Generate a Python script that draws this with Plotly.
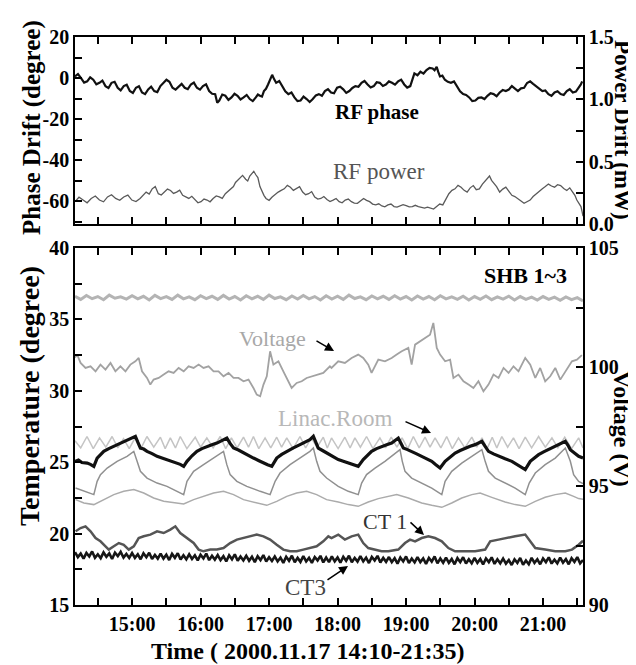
import plotly.graph_objects as go

# ---------------- data (time in minutes after 14:10) ----------------
rf_phase_t = [0, 2.6, 5.3, 8.0, 10.7, 13.3, 16.0, 18.7, 21.4, 24.0, 26.7, 29.3, 32.0, 34.7, 37.4, 40.0,
              42.7, 45.3, 48.0, 50.7, 53.4, 56.0, 58.7, 61.4, 64.1, 66.7, 69.4, 72.1, 74.8, 77.4, 80.1,
              82.7, 85.4, 88.1, 90.8, 93.4, 96.1, 98.8, 101.5, 104.1, 106.8, 109.5, 112.1, 114.8, 117.5,
              120.1, 122.8, 124.6, 126.4, 129.0, 131.7, 134.4, 137.1, 139.7, 142.4, 145.0, 147.7, 150.4,
              153.1, 155.7, 158.4, 160.2, 162.0, 163.8, 165.5, 167.3, 169.1, 170.9, 172.7, 174.5, 176.2,
              178.9, 181.6, 184.2, 186.9, 189.6, 192.2, 194.9, 197.6, 200.2, 202.9, 205.6, 208.3, 211.0,
              213.6, 216.3, 218.9, 221.6, 224.3, 226.9, 229.6, 232.3, 235.0, 237.6, 240.3, 243.0, 245.6,
              248.3, 251.0, 253.6, 256.3, 259.0, 261.7, 264.3, 267.0, 269.7, 272.3, 275.0, 277.7, 280.3,
              283.0, 285.7, 288.4, 291.0, 293.7, 295.5, 297.3, 300.0, 302.6, 305.3, 307.9, 310.6, 313.3,
              315.0, 316.8, 318.2, 319.7, 321.8, 324.0, 326.6, 329.3, 332.0, 334.6, 337.3, 340.0, 342.6,
              345.3, 348.0, 350.7, 353.3, 356.0, 358.7, 361.3, 364.0, 366.7, 369.3, 372.0, 374.7, 377.4,
              380.0, 382.7, 385.3, 388.0, 390.7, 393.4, 396.0, 398.7, 401.3, 404.0, 406.7, 409.4, 412.0,
              414.7, 417.4, 420.1, 422.7, 425.4, 428.1, 430.8, 433.4, 436.1, 438.8, 441.4, 443.0, 444.3]
rf_phase_deg = [0.8, 2.0, 0.0, -2.2, -1.6, 0.4, -0.8, -3.0, -2.3, -1.2, -3.9, -4.8, -2.3, -1.8, -4.7, -6.0,
                -3.9, -3.2, -6.3, -7.2, -4.7, -4.0, -7.0, -7.8, -5.5, -4.2, -6.3, -6.8, -3.9, -2.4, -0.8,
                -1.8, -4.7, -5.6, -3.9, -2.8, -4.7, -5.4, -3.1, -2.2, -4.7, -5.6, -3.9, -3.0, -6.3,
                -7.6, -7.8, -12.0, -10.9, -8.0, -8.6, -10.6, -9.4, -7.6, -8.6, -10.4, -9.4, -8.2,
                -10.2, -11.2, -9.4, -8.0, -8.6, -9.0, -6.3, -5.2, -3.1, -0.4, 1.6, -0.6, -2.3,
                -1.4, -3.9, -6.4, -7.8, -7.0, -9.4, -11.2, -10.9, -9.0, -10.2, -11.6, -10.2, -8.4,
                -7.8, -8.6, -6.3, -5.4, -7.0, -7.4, -4.7, -4.2, -5.5, -7.2, -6.3, -4.8, -3.9,
                -4.2, -2.3, -1.4, -3.1, -4.6, -3.9, -2.0, -2.3, -3.8, -3.1, -1.6, -2.3, -3.2,
                -1.6, -0.8, -3.1, -4.6, -3.9, -1.0, 2.3, 1.4, 3.1, 2.2, 3.9, 5.0, 4.7,
                3.8, 5.5, 3.0, 0.8, 1.2, -0.8, -1.8, -2.3, -1.6, -3.9, -6.4, -7.8, -8.2,
                -9.4, -11.2, -10.9, -9.6, -9.4, -10.2, -8.6, -7.4, -7.8, -8.8, -7.0, -5.8, -6.3,
                -5.6, -3.9, -5.0, -6.3, -5.0, -4.7, -2.4, -1.6, -2.8, -3.9, -5.4, -6.3, -6.0,
                -7.8, -8.6, -7.0, -6.4, -7.8, -8.2, -6.3, -5.4, -7.0, -6.6, -4.7, -3.2, -1.6]

rf_power_t = [0, 3.5, 7.1, 10.6, 14.2, 17.8, 21.4, 25.0, 28.5, 32.0, 35.6, 39.2, 42.7, 46.3, 49.8, 53.4,
              57.0, 59.6, 62.3, 65.0, 67.6, 70.3, 73.0, 75.6, 78.3, 81.0, 83.7, 86.3, 89.0, 91.7, 94.3,
              97.0, 99.7, 102.3, 105.0, 107.7, 110.4, 113.0, 115.7, 118.3, 121.0, 123.7, 126.4, 129.0,
              131.7, 134.4, 137.1, 138.8, 140.6, 142.4, 144.2, 146.8, 149.5, 151.3, 153.1, 154.8, 156.6,
              158.4, 160.2, 162.0, 163.8, 165.5, 167.3, 170.0, 172.7, 175.3, 178.0, 180.6, 183.3, 186.0,
              188.7, 191.3, 194.0, 196.7, 199.4, 202.0, 204.7, 207.3, 210.0, 212.7, 215.4, 218.0, 220.7,
              223.4, 226.1, 228.7, 231.4, 234.0, 236.7, 239.4, 242.1, 244.7, 247.4, 250.1, 252.8, 255.4,
              258.1, 260.7, 263.4, 266.1, 268.8, 271.4, 274.1, 276.8, 279.5, 282.1, 284.8, 287.4, 290.1,
              292.8, 295.5, 298.1, 300.8, 303.5, 306.2, 308.8, 311.5, 314.1, 316.8, 319.5, 322.2, 324.9,
              327.5, 330.2, 332.9, 335.5, 338.2, 340.9, 343.5, 346.2, 348.9, 351.5, 354.2, 356.9, 359.6,
              361.3, 363.1, 364.9, 366.7, 369.3, 372.0, 374.7, 377.4, 380.0, 382.7, 385.3, 388.0, 390.7,
              393.4, 396.0, 398.7, 401.3, 404.0, 406.7, 409.4, 412.0, 414.7, 417.4, 420.1, 422.7, 425.4,
              428.1, 430.8, 433.4, 436.1, 437.9, 439.6, 441.4, 443.2, 444.2, 445.0]
rf_power_mw = [0.179, 0.215, 0.192, 0.170, 0.205, 0.225, 0.192, 0.178, 0.217, 0.235, 0.205, 0.190, 0.217, 0.232, 0.192, 0.180,
               0.205, 0.230, 0.256, 0.240, 0.282, 0.300, 0.243, 0.232, 0.256, 0.280, 0.269, 0.245, 0.256, 0.272, 0.230,
               0.215, 0.205, 0.222, 0.192, 0.170, 0.179, 0.200, 0.192, 0.178, 0.205, 0.225, 0.217, 0.205,
               0.243, 0.262, 0.282, 0.300, 0.333, 0.350, 0.372, 0.390, 0.359, 0.345, 0.385, 0.400, 0.423,
               0.395, 0.372, 0.300, 0.256, 0.230, 0.205, 0.190, 0.217, 0.240, 0.256, 0.270, 0.282, 0.310,
               0.295, 0.270, 0.282, 0.300, 0.256, 0.235, 0.243, 0.260, 0.217, 0.200, 0.205, 0.220, 0.197,
               0.180, 0.192, 0.205, 0.179, 0.170, 0.192, 0.200, 0.179, 0.168, 0.166, 0.185, 0.205, 0.190,
               0.179, 0.160, 0.153, 0.162, 0.145, 0.138, 0.153, 0.160, 0.140, 0.135, 0.145, 0.155, 0.148,
               0.138, 0.140, 0.150, 0.140, 0.132, 0.127, 0.135, 0.127, 0.120, 0.140, 0.160, 0.153, 0.200,
               0.243, 0.270, 0.282, 0.310, 0.295, 0.270, 0.256, 0.290, 0.308, 0.275, 0.282, 0.320, 0.346,
               0.360, 0.385, 0.350, 0.333, 0.300, 0.256, 0.280, 0.295, 0.260, 0.230, 0.220, 0.205, 0.185,
               0.166, 0.180, 0.192, 0.220, 0.243, 0.265, 0.282, 0.300, 0.320, 0.305, 0.295, 0.315, 0.308,
               0.285, 0.269, 0.290, 0.256, 0.230, 0.192, 0.170, 0.140, 0.100, 0.063]

shb_top_t = list(range(0, 450, 5))
shb_top_temp = [36.62, 36.40, 36.68, 36.45, 36.60, 36.38, 36.70, 36.48, 36.58, 36.42,
                36.66, 36.44, 36.62, 36.36, 36.68, 36.46, 36.60, 36.40, 36.70, 36.44,
                36.58, 36.38, 36.66, 36.46, 36.62, 36.40, 36.68, 36.42, 36.60, 36.36,
                36.66, 36.44, 36.62, 36.40, 36.70, 36.46, 36.58, 36.38, 36.64, 36.42,
                36.68, 36.44, 36.60, 36.36, 36.66, 36.42, 36.62, 36.40, 36.70, 36.46,
                36.58, 36.38, 36.64, 36.44, 36.62, 36.40, 36.66, 36.42, 36.60, 36.36,
                36.64, 36.42, 36.60, 36.38, 36.66, 36.44, 36.58, 36.40, 36.62, 36.36,
                36.60, 36.40, 36.64, 36.38, 36.58, 36.42, 36.62, 36.36, 36.60, 36.40,
                36.56, 36.36, 36.60, 36.40, 36.56, 36.34, 36.58, 36.38, 36.52, 36.30]

voltage_t = [0, 1.9, 4.9, 9.2, 13.6, 18.0, 22.3, 26.7, 31.1, 35.4, 39.8, 44.2, 48.5, 52.9, 55.8, 58.7,
             63.1, 66.0, 68.9, 73.3, 77.7, 82.0, 86.4, 90.8, 95.2, 99.5, 103.9, 108.3, 112.6, 117.0,
             121.4, 125.7, 130.1, 134.5, 138.9, 143.2, 147.6, 152.0, 156.3, 159.2, 162.2, 165.1, 168.0,
             170.9, 173.8, 178.2, 182.5, 186.9, 189.8, 194.2, 198.6, 202.9, 207.3, 211.7, 217.5, 223.3,
             224.7, 230.6, 236.4, 242.3, 248.1, 252.5, 256.9, 259.8, 265.7, 271.5, 277.4, 281.8, 286.2,
             292.0, 294.9, 297.9, 302.2, 306.6, 311.0, 313.9, 316.9, 319.8, 324.2, 328.6, 331.5, 335.9,
             340.3, 344.7, 349.0, 353.4, 357.8, 362.2, 366.6, 371.0, 375.4, 379.8, 384.1, 388.5, 394.4,
             398.8, 403.2, 407.5, 411.9, 416.3, 420.7, 425.1, 429.5, 435.3, 439.7, 444.0]
voltage_v = [100.40, 100.52, 100.17, 99.96, 100.03, 99.82, 100.10, 99.89, 100.17, 99.82, 100.03, 99.82, 100.10, 100.24, 100.38, 99.82,
             99.54, 99.26, 99.47, 99.54, 99.68, 99.82, 99.75, 99.96, 99.82, 100.03, 99.96, 100.10, 99.96, 100.03,
             99.82, 99.82, 99.61, 99.75, 99.54, 99.54, 99.40, 99.47, 99.12, 98.84, 98.77, 99.26, 99.61,
             100.66, 100.10, 100.24, 99.82, 99.40, 99.12, 99.33, 99.40, 99.54, 99.61, 99.68, 99.75, 100.03,
             99.96, 100.24, 100.17, 100.38, 100.52, 100.38, 100.10, 99.75, 100.31, 100.24, 100.38, 100.52, 100.66,
             100.80, 100.10, 100.94, 101.08, 101.22, 101.36, 101.85, 100.80, 100.52, 100.24, 100.31, 99.54, 99.68,
             99.40, 99.26, 99.12, 99.40, 98.98, 99.26, 99.68, 99.54, 99.96, 99.75, 100.03, 99.82, 100.38,
             100.10, 99.54, 99.96, 99.40, 99.61, 99.96, 99.47, 99.82, 100.24, 100.31, 100.50]

linac_t = [0, 5, 10.5, 16, 21.5, 27, 32.5, 37.5, 42.5, 47.5, 53, 58, 63, 69, 74.8, 79, 83.5, 88, 92.2, 98,
           105.3, 110, 115.5, 121, 127.2, 132, 137, 142, 147.6, 152, 156.3, 161, 166.5, 171.5, 176.7, 181,
           185.5, 191, 197.1, 202, 207, 212, 217.5, 221, 224.7, 230.5, 236.4, 241, 245.2, 250, 255.4, 261,
           267.1, 272, 277, 282, 286.5, 291.5, 296.4, 301.5, 306.6, 311, 315.4, 320.5, 325.6, 330.5, 335.9,
           341.5, 347.6, 352, 356.5, 361, 365.5, 369.5, 373.9, 379, 384.1, 389, 394.4, 400, 406.1, 412,
           417.8, 423, 429, 435, 441.2, 445]
linac_temp = [26.5, 26.0, 26.8, 25.95, 26.7, 26.05, 26.8, 26.0, 26.65, 25.95, 26.75, 26.0, 26.8, 26.05, 26.75, 25.95, 26.7, 26.0, 26.8, 25.95,
              26.75, 26.05, 26.7, 26.0, 26.8, 25.95, 26.7, 26.0, 26.75, 26.05, 26.8, 25.95, 26.7, 26.0, 26.75, 26.05,
              26.7, 25.95, 26.8, 26.0, 26.7, 26.05, 26.75, 26.0, 26.7, 25.95, 26.75, 26.0, 26.7, 26.05, 26.8, 25.95,
              26.7, 26.0, 26.75, 26.05, 26.7, 25.95, 26.8, 26.0, 26.75, 26.05, 26.7, 26.0, 26.8, 25.95, 26.7,
              26.0, 26.75, 26.05, 26.7, 25.95, 26.75, 26.0, 26.8, 26.05, 26.7, 25.95, 26.75, 26.0, 26.8, 26.05,
              26.7, 26.0, 26.75, 25.95, 26.7, 26.0]

shb1_t = [0, 3, 6, 10.7, 13.5, 16.5, 19.4, 22.3, 25.2, 29.6, 34.0, 38.4, 42.7, 46.4, 50.0, 52.9, 55.0, 57.3,
          60.2, 63.1, 67.5, 71.9, 76.2, 80.6, 85.0, 89.3, 92.2, 95.2, 98.1, 102.5, 106.8, 111.2, 115.5, 119.9,
          124.3, 128.6, 133.0, 136.0, 138.9, 143.2, 147.6, 152.0, 156.3, 160.7, 165.1, 168.7, 172.4, 176.7,
          181.1, 185.5, 191.3, 197.1, 201.5, 205.8, 208.8, 211.0, 213.1, 216.8, 220.4, 225.5, 230.6, 235.0,
          239.4, 243.7, 248.1, 252.5, 256.1, 259.8, 264.2, 268.6, 273.0, 277.4, 280.3, 283.2, 285.4, 287.6,
          291.2, 294.9, 299.3, 303.7, 308.1, 312.5, 316.1, 319.8, 324.2, 328.6, 333.0, 337.4, 341.7, 346.1,
          350.5, 356.4, 359.3, 362.2, 366.6, 371.0, 376.8, 382.7, 388.5, 394.4, 398.8, 402.4, 406.1, 410.5,
          414.9, 419.2, 423.6, 429.5, 431.7, 433.9, 437.5, 441.2, 445.0]
shb1_temp = [25.06, 25.15, 24.98, 24.94, 24.85, 24.71, 25.29, 25.55, 25.76, 25.95, 26.11, 26.30, 26.46, 26.55, 26.69, 26.81, 26.40, 25.99,
             25.92, 25.76, 25.60, 25.41, 25.30, 25.18, 25.05, 24.94, 24.85, 24.71, 25.06, 25.45, 25.76, 25.95, 26.11, 26.22,
             26.34, 26.52, 26.69, 26.30, 25.99, 25.85, 25.64, 25.48, 25.29, 25.12, 24.94, 24.82, 24.71, 25.29,
             25.55, 25.76, 26.00, 26.23, 26.40, 26.58, 26.81, 26.40, 25.99, 25.82, 25.64, 25.40, 25.18, 25.06,
             24.94, 24.82, 24.71, 25.18, 25.50, 25.76, 25.95, 26.11, 26.22, 26.34, 26.50, 26.69, 26.35, 25.99,
             25.88, 25.76, 25.58, 25.41, 25.22, 25.06, 24.82, 24.59, 25.06, 25.38, 25.64, 25.82, 25.99, 26.12,
             26.23, 26.46, 26.10, 25.76, 25.58, 25.41, 25.24, 25.06, 24.78, 24.48, 25.06, 25.30, 25.53, 25.72,
             25.88, 26.05, 26.23, 26.46, 26.20, 25.88, 25.65, 25.41, 25.30]

shb2_t = [0.5, 7.8, 16.5, 19.4, 22.3, 28.2, 36.9, 45.6, 51.5, 54.4, 57.3, 63.1, 71.9, 80.6, 89.3, 95.2, 98.1,
          103.9, 112.6, 121.4, 130.1, 133.0, 135.9, 141.8, 150.5, 162.2, 170.9, 175.3, 179.6, 188.4, 197.1,
          205.8, 208.8, 211.7, 214.6, 220.4, 230.6, 239.4, 248.1, 251.1, 255.4, 262.8, 271.5, 280.3, 284.7,
          286.7, 289.1, 294.9, 303.7, 312.5, 321.3, 324.2, 330.0, 338.8, 347.6, 356.4, 359.3, 362.2, 368.1,
          376.8, 385.6, 394.4, 397.9, 403.2, 411.9, 420.7, 429.5, 433.9, 436.8, 441.2, 445.0]
shb2_temp = [23.19, 22.96, 22.73, 23.66, 24.13, 24.59, 25.06, 25.41, 25.76, 25.06, 24.36, 23.89, 23.54, 23.31, 22.96, 22.73, 23.66,
             24.36, 24.83, 25.29, 25.76, 24.83, 24.13, 23.66, 23.31, 22.96, 22.73, 23.66, 24.24, 24.83, 25.29,
             25.76, 25.99, 25.06, 24.36, 23.89, 23.31, 22.96, 22.73, 23.54, 24.13, 24.59, 25.06, 25.64, 25.88,
             25.06, 24.36, 23.89, 23.54, 23.19, 22.73, 23.66, 24.36, 24.94, 25.41, 25.88, 25.06, 24.36, 23.89,
             23.54, 23.19, 22.73, 23.54, 24.24, 24.83, 25.29, 25.99, 25.06, 24.13, 23.66, 23.50]

shb3_t = [0.5, 7.8, 16.5, 25.2, 34.0, 42.7, 51.5, 60.2, 68.9, 77.7, 86.4, 95.2, 103.9, 112.6, 121.4, 130.1,
          138.9, 147.6, 159.2, 168.0, 176.7, 185.5, 194.2, 202.9, 211.7, 220.4, 230.6, 239.4, 248.1, 256.9,
          265.7, 274.5, 281.8, 292.0, 303.7, 312.5, 321.3, 330.0, 338.8, 347.6, 354.9, 365.1, 376.8, 385.6,
          394.4, 403.2, 411.9, 420.7, 429.5, 436.8, 441.2, 445.0]
shb3_temp = [22.38, 22.14, 22.03, 22.38, 22.73, 22.96, 23.08, 22.84, 22.49, 22.26, 22.14, 22.07, 22.38, 22.61, 22.84, 22.96,
             22.73, 22.38, 22.14, 21.98, 22.26, 22.61, 22.84, 22.96, 22.73, 22.38, 22.21, 22.03, 21.91, 22.21,
             22.45, 22.61, 22.73, 22.49, 22.14, 21.98, 21.84, 22.14, 22.49, 22.73, 22.84, 22.54, 22.21, 22.03,
             21.91, 22.26, 22.54, 22.73, 22.84, 22.61, 22.45, 22.40]

ct1_t = [0.5, 4.9, 9.2, 13.6, 18.0, 22.3, 26.7, 29.6, 34.0, 38.4, 42.7, 47.1, 51.5, 55.8, 60.2, 66.0, 71.9,
         77.7, 83.5, 87.9, 92.2, 98.1, 103.9, 108.3, 112.6, 118.5, 124.3, 130.1, 135.9, 141.8, 147.6, 153.4,
         159.2, 165.1, 170.9, 176.7, 182.5, 188.4, 194.2, 200.0, 205.8, 211.7, 217.5, 221.9, 224.7, 230.6,
         236.4, 242.3, 248.1, 252.5, 256.9, 262.8, 268.6, 274.5, 283.2, 289.1, 293.5, 297.9, 303.7, 309.6,
         315.4, 321.3, 327.1, 333.0, 341.7, 350.5, 359.3, 363.7, 371.0, 376.8, 385.6, 394.4, 398.8, 403.2,
         411.9, 420.7, 429.5, 435.3, 441.2, 445.0]
ct1_temp = [20.16, 20.39, 20.51, 20.16, 19.69, 19.46, 19.11, 18.88, 19.11, 19.34, 19.22, 18.88, 19.11, 19.69, 19.81, 19.93, 20.16,
            20.04, 20.28, 20.51, 20.04, 19.69, 19.34, 18.88, 18.76, 18.88, 18.88, 18.99, 19.34, 19.58, 19.69, 19.81,
            19.93, 19.81, 19.58, 19.22, 18.88, 18.76, 18.76, 18.88, 18.99, 19.11, 19.46, 19.81, 19.69, 19.93,
            19.58, 19.81, 19.93, 19.34, 18.99, 18.88, 18.76, 18.76, 18.88, 19.34, 19.58, 19.46, 19.69, 19.81,
            19.69, 19.46, 18.99, 18.76, 18.76, 18.76, 18.88, 19.46, 19.58, 19.69, 19.81, 19.93, 19.46, 18.99,
            18.88, 18.76, 18.76, 18.88, 19.22, 19.50]

ct3_t = [i * 2.5 for i in range(179)]
ct3_temp = [18.70, 18.35, 18.60, 18.25, 18.65, 18.40, 18.75, 18.30, 18.55, 18.28,
            18.68, 18.38, 18.62, 18.22, 18.66, 18.42, 18.72, 18.32, 18.58, 18.30,
            18.64, 18.30, 18.55, 18.20, 18.62, 18.35, 18.66, 18.22, 18.50, 18.25,
            18.60, 18.25, 18.52, 18.15, 18.58, 18.30, 18.63, 18.18, 18.48, 18.20,
            18.55, 18.22, 18.48, 18.12, 18.52, 18.26, 18.60, 18.14, 18.45, 18.18,
            18.50, 18.15, 18.42, 18.05, 18.48, 18.20, 18.55, 18.10, 18.40, 18.12,
            18.45, 18.10, 18.38, 18.00, 18.42, 18.15, 18.50, 18.05, 18.35, 18.08,
            18.40, 18.05, 18.32, 17.95, 18.38, 18.10, 18.45, 18.00, 18.30, 18.02,
            18.42, 18.05, 18.30, 17.95, 18.36, 18.12, 18.44, 17.98, 18.32, 18.00,
            18.40, 18.06, 18.33, 17.96, 18.38, 18.10, 18.45, 18.00, 18.30, 18.04,
            18.42, 18.05, 18.32, 17.94, 18.36, 18.12, 18.44, 17.98, 18.30, 18.02,
            18.36, 18.00, 18.28, 17.90, 18.32, 18.05, 18.40, 17.94, 18.25, 17.98,
            18.35, 18.00, 18.26, 17.88, 18.30, 18.04, 18.40, 17.92, 18.26, 17.96,
            18.32, 17.95, 18.22, 17.85, 18.28, 18.00, 18.35, 17.90, 18.20, 17.92,
            18.30, 17.95, 18.22, 17.84, 18.26, 18.00, 18.34, 17.88, 18.20, 17.92,
            18.25, 17.90, 18.15, 17.80, 18.20, 17.95, 18.30, 17.82, 18.12, 17.85,
            18.30, 17.95, 18.20, 17.85, 18.26, 18.00, 18.34, 17.90, 18.18, 17.92,
            18.32, 17.96, 18.22, 17.85, 18.28, 18.02, 18.35, 17.92, 18.15]

x_tick_minutes = [20, 50, 80, 110, 140, 170, 200, 230, 260, 290, 320, 350, 380, 410, 440]
x_tick_labels = ["", "15:00", "", "16:00", "", "17:00", "", "18:00", "", "19:00", "", "20:00", "", "21:00", ""]
phase_ticks = [-70, -60, -50, -40, -30, -20, -10, 0, 10, 20]
phase_labels = ["", "-60", "", "-40", "", "-20", "", "0", "", "20"]
power_ticks = [0, 0.25, 0.5, 0.75, 1.0, 1.25, 1.5]
power_labels = ["0.0", "", "0.5", "", "1.0", "", "1.5"]
temp_ticks = [15, 17.5, 20, 22.5, 25, 27.5, 30, 32.5, 35, 37.5, 40]
temp_labels = ["15", "", "20", "", "25", "", "30", "", "35", "", "40"]
volt_ticks = [90, 92.5, 95, 97.5, 100, 102.5, 105]
volt_labels = ["90", "", "95", "", "100", "", "105"]

# ---------------- layout helpers ----------------
W, H = 636, 665
L, R, T, B = 67, 575, 29, 597
FONT = "Liberation Serif"


def px(x):
    return (x - L) / (R - L)


def py(y):
    return (B - y) / (B - T)


fig = go.Figure()

# top panel
fig.add_trace(go.Scatter(x=rf_phase_t, y=rf_phase_deg, xaxis="x2", yaxis="y3", mode="lines",
                         line=dict(color="#111111", width=2.2)))
fig.add_trace(go.Scatter(x=rf_power_t, y=rf_power_mw, xaxis="x2", yaxis="y4", mode="lines",
                         line=dict(color="#5a5a5a", width=1.3)))

# bottom panel
fig.add_trace(go.Scatter(x=shb_top_t, y=shb_top_temp, mode="lines", line=dict(color="#b4b4b4", width=3)))
fig.add_trace(go.Scatter(x=linac_t, y=linac_temp, mode="lines", line=dict(color="#c4c4c4", width=1.5)))
fig.add_trace(go.Scatter(x=shb3_t, y=shb3_temp, mode="lines", line=dict(color="#ababab", width=1.5)))
fig.add_trace(go.Scatter(x=shb2_t, y=shb2_temp, mode="lines", line=dict(color="#909090", width=1.5)))
fig.add_trace(go.Scatter(x=shb1_t, y=shb1_temp, mode="lines", line=dict(color="#111111", width=3.2)))
fig.add_trace(go.Scatter(x=ct1_t, y=ct1_temp, mode="lines", line=dict(color="#555555", width=2.5)))
fig.add_trace(go.Scatter(x=ct3_t, y=ct3_temp, mode="lines", line=dict(color="#161616", width=2.6)))
fig.add_trace(go.Scatter(x=voltage_t, y=voltage_v, yaxis="y2", mode="lines",
                         line=dict(color="#a2a2a2", width=1.8)))

tickfont = dict(family=FONT, size=20, color="black", weight="bold")
axis_common = dict(ticks="inside", ticklen=7, tickwidth=1.5, tickcolor="black", showline=True,
                   linecolor="black", linewidth=1.5, showgrid=False, zeroline=False, tickfont=tickfont)

fig.update_layout(
    width=W, height=H, autosize=False, showlegend=False,
    paper_bgcolor="white", plot_bgcolor="white",
    margin=dict(l=L, r=W - R, t=T, b=H - B, pad=0),
    xaxis=dict(domain=[0, 1], anchor="y", range=[0, 445], tickmode="array", tickvals=x_tick_minutes,
               ticktext=x_tick_labels, mirror="ticks", **axis_common),
    xaxis2=dict(domain=[0, 1], anchor="y3", range=[0, 445], tickmode="array", tickvals=x_tick_minutes,
                ticktext=x_tick_labels, showticklabels=False, mirror="ticks", **axis_common),
    yaxis=dict(domain=[0, py(240)], anchor="x", range=[15, 40], tickmode="array", tickvals=temp_ticks,
               ticktext=temp_labels, **axis_common),
    yaxis2=dict(overlaying="y", side="right", anchor="x", range=[90, 105], tickmode="array",
                tickvals=volt_ticks, ticktext=volt_labels, **axis_common),
    yaxis3=dict(domain=[py(216), 1], anchor="x2", range=[-71, 20], tickmode="array", tickvals=phase_ticks,
                ticktext=phase_labels, **axis_common),
    yaxis4=dict(overlaying="y3", side="right", anchor="x2", range=[0, 1.5], tickmode="array",
                tickvals=power_ticks, ticktext=power_labels, **axis_common),
)


def text_ann(x, y, text, size, color="black", bold=True, angle=0):
    fig.add_annotation(x=px(x), y=py(y), xref="paper", yref="paper", text=text, showarrow=False,
                       textangle=angle, xanchor="center", yanchor="middle",
                       font=dict(family=FONT, size=size, color=color, weight="bold" if bold else "normal"))


def arrow_ann(x_head, y_head, x_tail, y_tail):
    fig.add_annotation(x=px(x_head), y=py(y_head), xref="paper", yref="paper", text="", showarrow=True,
                       ax=x_tail - x_head, ay=y_tail - y_head, arrowhead=2, arrowsize=1.2,
                       arrowwidth=1.5, arrowcolor="black")


# axis titles
text_ann(24, 120, "Phase Drift (degree)", 25, angle=-90)
text_ann(21, 388, "Temperature (degree)", 28, angle=-90)
text_ann(614, 122, "Power Drift (mW)", 23, angle=90)
text_ann(614, 421, "Voltage (V)", 24, angle=90)
text_ann(300, 643, "Time ( 2000.11.17 14:10-21:35)", 24)

# in-plot labels
text_ann(369, 104, "RF phase", 21)
text_ann(371, 163, "RF power", 23, color="#555555", bold=False)
text_ann(517, 267, "SHB 1~3", 22)
text_ann(264, 330, "Voltage", 22, color="#a8a8a8", bold=False)
text_ann(327, 410, "Linac.Room", 23, color="#b8b8b8", bold=False)
text_ann(377, 513, "CT 1", 22, color="#333333", bold=False)
text_ann(297, 579, "CT3", 23, color="#444444", bold=False)

arrow_ann(326, 343, 307, 332)
arrow_ann(423, 425, 396, 413)
arrow_ann(416, 527, 401, 513)
arrow_ann(340, 558, 318, 573)

fig.write_html("out.html")
